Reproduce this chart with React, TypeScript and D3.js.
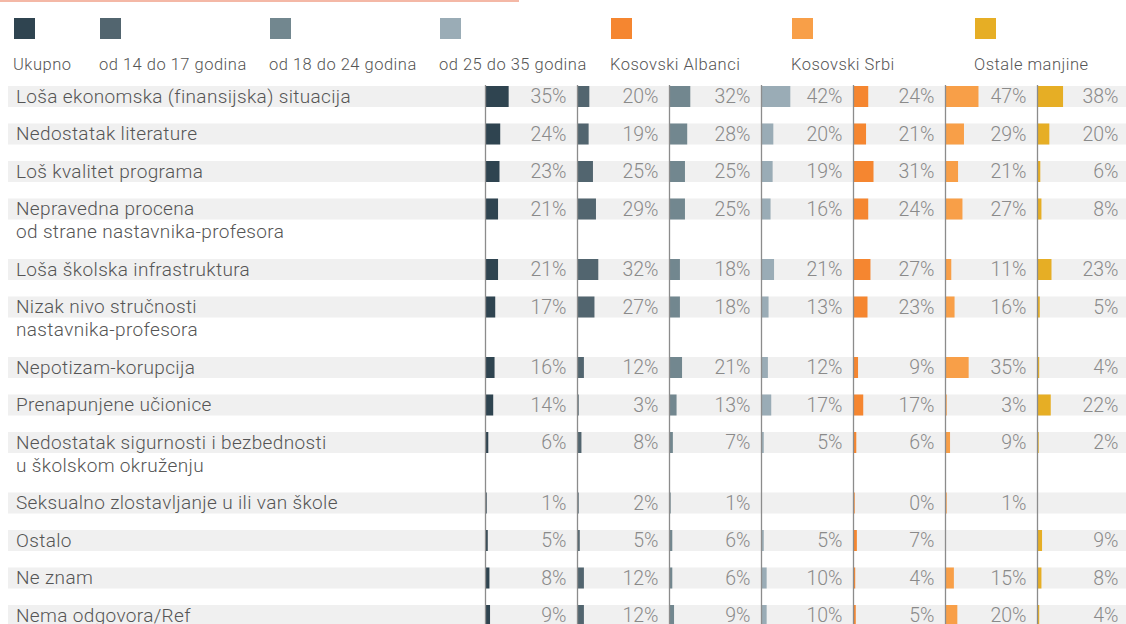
import React from "react";
import * as d3 from "d3";

// ---------- DATA ----------
const categories: string[][] = [
  ["Loša ekonomska (finansijska) situacija"],
  ["Nedostatak literature"],
  ["Loš kvalitet programa"],
  ["Nepravedna procena", "od strane nastavnika-profesora"],
  ["Loša školska infrastruktura"],
  ["Nizak nivo stručnosti", "nastavnika-profesora"],
  ["Nepotizam-korupcija"],
  ["Prenapunjene učionice"],
  ["Nedostatak sigurnosti i bezbednosti", "u školskom okruženju"],
  ["Seksualno zlostavljanje u ili van škole"],
  ["Ostalo"],
  ["Ne znam"],
  ["Nema odgovora/Ref"],
];

const seriesNames = [
  "Ukupno",
  "od 14 do 17 godina",
  "od 18 do 24 godina",
  "od 25 do 35 godina",
  "Kosovski Albanci",
  "Kosovski Srbi",
  "Ostale manjine",
];

const ukupno = [35, 24, 23, 21, 21, 17, 16, 14, 6, 1, 5, 8, 9];
const od14do17 = [20, 19, 25, 29, 32, 27, 12, 3, 8, 2, 5, 12, 12];
const od18do24 = [32, 28, 25, 25, 18, 18, 21, 13, 7, 1, 6, 6, 9];
const od25do35 = [42, 20, 19, 16, 21, 13, 12, 17, 5, null, 5, 10, 10];
const kosovskiAlbanci = [24, 21, 31, 24, 27, 23, 9, 17, 6, 0, 7, 4, 5];
const kosovskiSrbi = [47, 29, 21, 27, 11, 16, 35, 3, 9, 1, null, 15, 20];
const ostaleManjine = [38, 20, 6, 8, 23, 5, 4, 22, 2, null, 9, 8, 4];

const seriesValues: (number | null)[][] = [
  ukupno,
  od14do17,
  od18do24,
  od25do35,
  kosovskiAlbanci,
  kosovskiSrbi,
  ostaleManjine,
];

// ---------- STYLE / LAYOUT ----------
const COLORS = ["#2f4450", "#52656f", "#72878f", "#9aacb6", "#f58630", "#f89f48", "#e6ae25"];
const LEGEND_X = [14, 100, 270, 440, 611, 792, 975];
const FONT = "Roboto, 'Liberation Sans', sans-serif";
const W = 1126;
const H = 624;
const COL_START = 485.5;
const COL_STEP = 92;
const LABEL_OFFSET = 81;
const ROW_START = 86;
const SINGLE_PITCH = 37.5;
const EXTRA_LINE = 23;
const BAND_H = 21;

export default function App() {
  const colX = d3
    .scaleLinear()
    .domain([0, seriesNames.length - 1])
    .range([COL_START, COL_START + COL_STEP * (seriesNames.length - 1)]);

  const barW = d3.scalePow().exponent(1.2).domain([0, 100]).range([0, 81.6]);

  const rowTops: number[] = [];
  categories.reduce((acc, lines) => {
    rowTops.push(acc);
    return acc + SINGLE_PITCH + (lines.length - 1) * EXTRA_LINE;
  }, ROW_START);

  return (
    <svg
      width={W}
      height={H}
      style={{ position: "absolute", left: 0, top: 0, display: "block" }}
    >
      <rect x={0} y={0} width={W} height={H} fill="#fff" />
      <line x1={0} x2={519} y1={1} y2={1} stroke="#f0a088" strokeWidth={1.5} />

      {/* legend */}
      {seriesNames.map((name, i) => (
        <g key={name}>
          <rect x={LEGEND_X[i]} y={18} width={21} height={21} fill={COLORS[i]} />
          <text
            x={LEGEND_X[i] - 1}
            y={70}
            fontFamily={FONT}
            fontWeight={300}
            fontSize={16.5}
            letterSpacing={0.5}
            fill="#555"
          >
            {name}
          </text>
        </g>
      ))}

      {/* row bands and labels */}
      {categories.map((lines, r) => (
        <g key={r}>
          <rect x={8} y={rowTops[r]} width={W - 8} height={BAND_H} fill="#f0f0f0" />
          {lines.map((ln, k) => (
            <text
              key={k}
              x={16}
              y={rowTops[r] + 16.5 + k * EXTRA_LINE}
              fontFamily={FONT}
              fontWeight={300}
              fontSize={19}
              letterSpacing={0.35}
              fill="#555"
            >
              {ln}
            </text>
          ))}
        </g>
      ))}

      {/* bars and values */}
      {seriesValues.map((vals, s) => (
        <g key={s}>
          {vals.map((v, r) =>
            v === null ? null : (
              <g key={r}>
                <rect
                  x={colX(s)}
                  y={rowTops[r]}
                  width={Math.max(barW(v), 1.2)}
                  height={BAND_H}
                  fill={COLORS[s]}
                />
                <text
                  x={colX(s) + LABEL_OFFSET}
                  y={rowTops[r] + 17}
                  textAnchor="end"
                  fontFamily={FONT}
                  fontWeight={300}
                  fontSize={19.5}
                  fill="#8a8a8a"
                >
                  {v}%
                </text>
              </g>
            )
          )}
          <line
            x1={colX(s)}
            x2={colX(s)}
            y1={ROW_START - 1}
            y2={H}
            stroke="#8c8c8c"
            strokeWidth={1.3}
          />
        </g>
      ))}
    </svg>
  );
}
